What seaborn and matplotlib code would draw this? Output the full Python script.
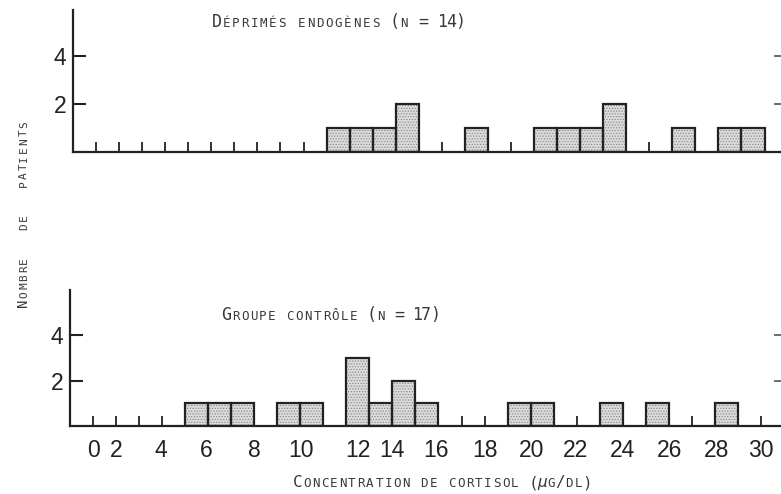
import numpy as np
import pandas as pd
import seaborn as sns
import matplotlib
matplotlib.use("Agg")
import matplotlib.pyplot as plt

# Cortisol concentration classes (lower bound, µg/dl) and number of patients per class
depr_conc = [11, 12, 13, 14, 17, 20, 21, 22, 23, 26, 28, 29]
depr_n = [1, 1, 1, 2, 1, 1, 1, 1, 2, 1, 1, 1]
ctrl_conc = [5, 6, 7, 9, 10, 12, 13, 14, 15, 19, 20, 23, 25, 28]
ctrl_n = [1, 1, 1, 1, 1, 3, 1, 2, 1, 1, 1, 1, 1, 1]

x_labels = ["0", "2", "4", "6", "8", "10", "12", "14", "16", "18",
            "20", "22", "24", "26", "28", "30"]
y_ticks = [2, 4]

title_depr = "Déprimés endogènes (n = 14)"
title_ctrl = "Groupe contrôle (n = 17)"
x_title = "Concentration de cortisol (μg/dl)"
y_title = "Nombre   de   patients"

# layout
x_label_pos = [1.0, 2.0, 3.95, 5.93, 8.0, 10.03, 12.5, 14.0, 15.9, 18.04,
               20.04, 21.95, 23.99, 26.03, 28.07, 29.98]
W, H = 781, 494
INK = "#222222"
TXT = "#3a3a3a"

sns.set_theme(style="white")
plt.rcParams["font.family"] = ["Liberation Sans", "DejaVu Sans"]
plt.rcParams["hatch.linewidth"] = 0.6

fig = plt.figure(figsize=(W / 100, H / 100), dpi=100)
fig.patch.set_facecolor("white")


def px_axes(left, top, right, bottom):
    return fig.add_axes([left / W, 1 - bottom / H, (right - left) / W, (bottom - top) / H])


ax_top = px_axes(73, 10, 781, 152)
ax_bot = px_axes(70, 290, 781, 426)


def draw_hist(ax, conc, counts, xmax, ymax):
    df = pd.DataFrame({"conc": np.asarray(conc, dtype=float) + 0.5,
                       "n": np.asarray(counts, dtype=float)})
    # stippled fill
    sns.histplot(data=df, x="conc", weights="n", binwidth=1, binrange=(0, 30), ax=ax,
                 color="#dcdcdc", edgecolor="#8c8c8c", linewidth=0, hatch="......",
                 alpha=1)
    # outlines
    sns.histplot(data=df, x="conc", weights="n", binwidth=1, binrange=(0, 30), ax=ax,
                 fill=False, color=INK, edgecolor=INK, linewidth=1.6)
    for p in ax.patches:
        if p.get_height() == 0:
            p.set_visible(False)
    ax.set_xlim(0, xmax)
    ax.set_ylim(0, ymax)
    ax.set_xlabel("")
    ax.set_ylabel("")
    for s in ("top", "right"):
        ax.spines[s].set_visible(False)
    for s in ("left", "bottom"):
        ax.spines[s].set_color(INK)
        ax.spines[s].set_linewidth(1.6)
    # small marks on class boundaries inside empty stretches
    filled = set(conc)
    marks = [k for k in range(1, 31) if (k - 1) not in filled and k not in filled]
    ax.xaxis.remove_overlapping_locs = False
    ax.set_xticks(marks, minor=True)
    ax.tick_params(axis="x", which="minor", direction="in", length=7, width=1.3,
                   color=INK, bottom=True)
    ax.set_yticks(y_ticks)
    ax.set_yticklabels([str(v) for v in y_ticks])
    ax.tick_params(axis="y", direction="in", length=9, width=1.5, color=INK,
                   labelsize=16.5, labelcolor=INK, pad=5, left=True)
    ax.set_facecolor("none")
    # short marks on the right edge
    tw = ax.twinx()
    tw.set_ylim(0, ymax)
    tw.set_yticks(y_ticks)
    tw.tick_params(axis="y", direction="in", length=5, width=1.2, color="#555555",
                   labelright=False, right=True)
    for s in tw.spines.values():
        s.set_visible(False)


draw_hist(ax_top, depr_conc, depr_n, (781 - 73) / 23.05, 5.92)
draw_hist(ax_bot, ctrl_conc, ctrl_n, (781 - 70) / 23.03, 5.98)

ax_top.set_xticks([])
ax_bot.set_xticks(x_label_pos)
ax_bot.set_xticklabels(x_labels)
ax_bot.tick_params(axis="x", which="major", length=0, labelsize=16.5,
                   labelcolor=INK, pad=9)


def caps_text(text, x0, y0, adv, big, small, vertical=False):
    """Letter-spaced small capitals placed character by character (pixel coordinates)."""
    for i, ch in enumerate(text):
        if ch == " ":
            continue
        if ch.islower() and ch != "μ":
            glyph, size = ch.upper(), small
        else:
            glyph, size = ch, big
        style = "italic" if ch == "μ" else "normal"
        if vertical:
            x, y, rot = x0, y0 - (i + 0.5) * adv, 90
        else:
            x, y, rot = x0 + (i + 0.5) * adv, y0, 0
        fig.text(x / W, 1 - y / H, glyph, fontsize=size, rotation=rot,
                 rotation_mode="anchor", ha="center", va="baseline",
                 family=["DejaVu Sans Mono", "DejaVu Sans"], fontstyle=style, color=TXT)


caps_text(title_depr, 212, 27, 9.37, 12, 9)
caps_text(title_ctrl, 222, 320, 9.08, 12, 9)
caps_text(x_title, 293, 487, 9.06, 11.5, 9)
caps_text(y_title, 27, 307, 8.5, 10, 8, vertical=True)

fig.savefig("out.png", dpi=100, facecolor="white")
